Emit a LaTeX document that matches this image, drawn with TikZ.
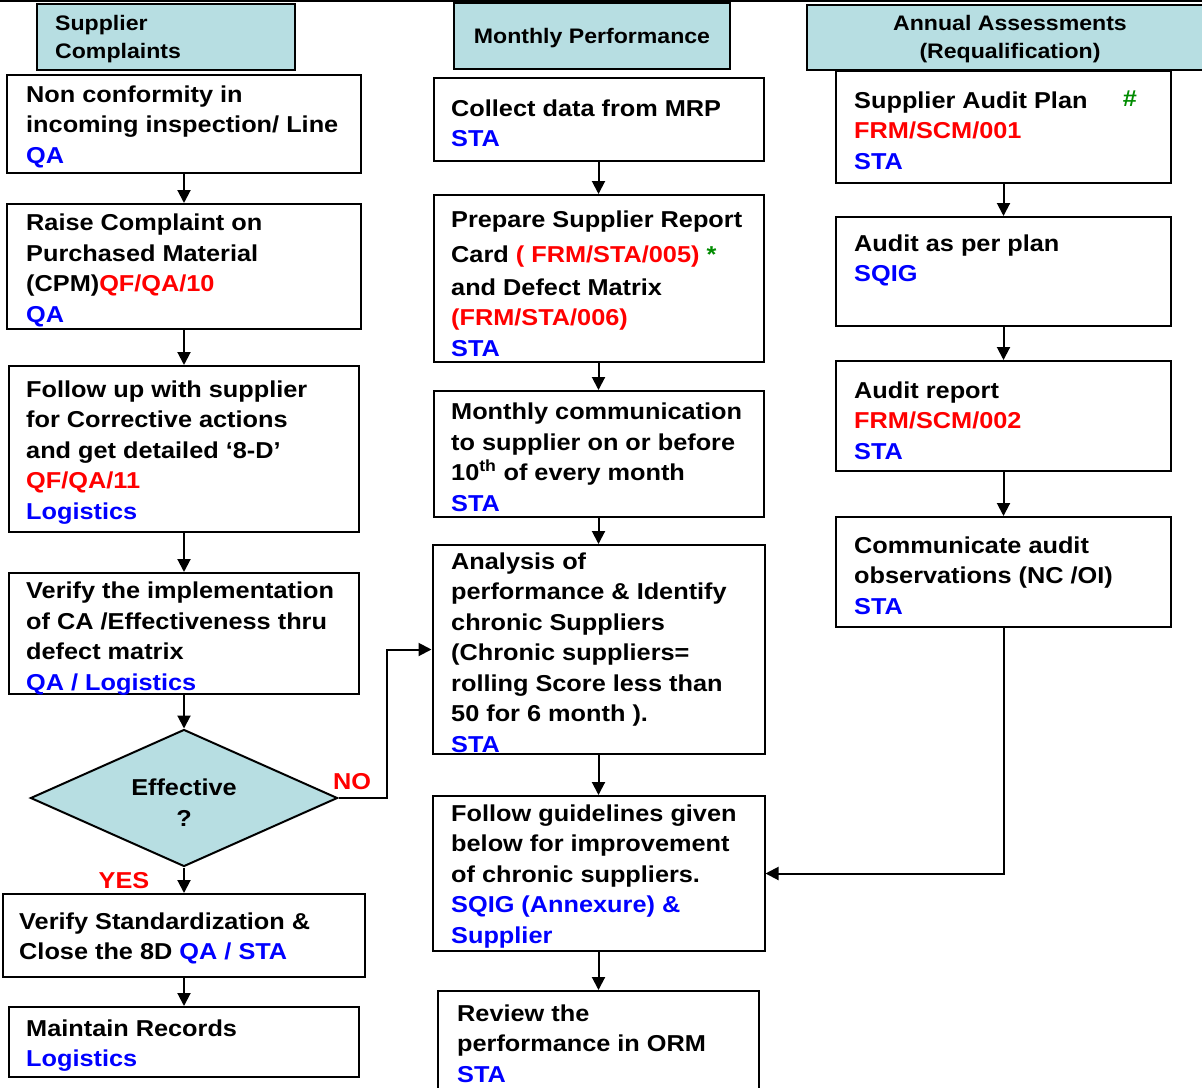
\documentclass[tikz,border=0pt]{standalone}
\usepackage{fontspec}
\setmainfont{Liberation Sans}[FakeStretch=1.1]
\usetikzlibrary{shapes.geometric,arrows.meta}

\definecolor{hdrfill}{RGB}{183,222,226}
\definecolor{tagblue}{RGB}{0,0,255}
\definecolor{tagred}{RGB}{255,0,0}
\definecolor{taggreen}{RGB}{0,140,0}

\newcommand{\ownr}[1]{\textcolor{tagblue}{#1}}
\newcommand{\form}[1]{\textcolor{tagred}{#1}}
\newcommand{\gmark}[1]{\textcolor{taggreen}{#1}}
\newcommand{\bodyfont}{\fontsize{23}{30.5}\selectfont\bfseries}
\newcommand{\headfont}{\fontsize{21}{28}\selectfont\bfseries}

\tikzset{
  frame/.style={draw, line width=2pt, rectangle, inner sep=0pt, fill=white},
  header/.style={draw, line width=2pt, rectangle, inner sep=0pt, fill=hdrfill,
                 font=\headfont, align=center},
  txt/.style={anchor=west, align=left, inner sep=0pt, font=\bodyfont, yshift=-2.5pt},
  headtxt/.style={inner sep=0pt, font=\headfont, yshift=-2.5pt},
  decision/.style={diamond, draw, line width=2pt, fill=hdrfill, inner sep=0pt},
  flow/.style={-{Triangle[length=13pt,width=13pt]}, line width=2pt},
  answer/.style={inner sep=0pt, font=\bodyfont, text=tagred}
}

\begin{document}
\begin{tikzpicture}[x=1pt,y=-1pt]
\useasboundingbox (0,0) rectangle (1202,1087);

% page rule along the top
\draw[line width=1.4pt] (0,1) -- (1202,1);

% ---------- column headers ----------
\node[header, minimum width=258pt, minimum height=66pt] (h1) at (166,37) {};
\node[headtxt, anchor=west, align=left] (h1t) at (55,37) {Supplier\\Complaints};
\node[header, minimum width=276pt, minimum height=66pt] (h2) at (592,36) {};
\node[headtxt] (h2t) at (592,36) {Monthly Performance};
\node[header, minimum width=403pt, minimum height=65pt] (h3) at (1008.5,37.5) {};
\node[headtxt, align=center] (h3t) at (1010,37) {Annual Assessments\\(Requalification)};

% ---------- supplier complaints ----------
\node[frame, minimum width=354pt, minimum height=98pt]  (b1) at (184,124) {};
\node[txt] (b1t) at (26,124) {Non conformity in\\incoming inspection/ Line\\\ownr{QA}};

\node[frame, minimum width=354pt, minimum height=125pt] (b2) at (184,266.5) {};
\node[txt] (b2t) at (26,268) {Raise Complaint on\\Purchased Material\\(CPM)\form{QF/QA/10}\\\ownr{QA}};

\node[frame, minimum width=350pt, minimum height=166pt] (b3) at (184,449) {};
\node[txt] (b3t) at (26,450) {Follow up with supplier\\for Corrective actions\\and get detailed ‘8-D’\\\form{QF/QA/11}\\\ownr{Logistics}};

\node[frame, minimum width=350pt, minimum height=121pt] (b4) at (184,633.5) {};
\node[txt] (b4t) at (26,636) {Verify the implementation\\of CA /Effectiveness thru\\defect matrix\\\ownr{QA / Logistics}};

\node[decision, minimum width=307pt, minimum height=137pt] (dec) at (184,798) {};
\node[inner sep=0pt, align=center, font=\bodyfont, yshift=-1.5pt] (dect) at (184,801) {Effective\\?};

\node[frame, minimum width=362pt, minimum height=83pt]  (b5) at (184,935.5) {};
\node[txt] (b5t) at (19,936) {Verify Standardization \&\\Close the 8D \ownr{QA / STA}};

\node[frame, minimum width=350pt, minimum height=70pt]  (b6) at (184,1042) {};
\node[txt] (b6t) at (26,1043) {Maintain Records\\\ownr{Logistics}};

\node[answer, yshift=-1.5pt] (no)  at (352,780) {NO};
\node[answer, yshift=-1.5pt] (yes) at (124,879) {YES};

% ---------- monthly performance ----------
\node[frame, minimum width=330pt, minimum height=83pt]  (c1) at (598.5,119.5) {};
\node[txt] (c1t) at (451,121) {Collect data from MRP\\\ownr{STA}};

\node[frame, minimum width=330pt, minimum height=167pt] (c2) at (598.5,278.5) {};
\node[txt] (c2t) at (451,281) {Prepare Supplier Report\\[5pt]Card \form{( FRM/STA/005)} \gmark{*}\\[2pt]and Defect Matrix\\\form{(FRM/STA/006)}\\\ownr{STA}};

\node[frame, minimum width=330pt, minimum height=126pt] (c3) at (598.5,454) {};
\node[txt] (c3t) at (451,455) {Monthly communication\\to supplier on or before\\10\textsuperscript{th} of every month\\\ownr{STA}};

\node[frame, minimum width=332pt, minimum height=209pt] (c4) at (598.5,649.5) {};
\node[txt] (c4t) at (451,650) {Analysis of\\performance \& Identify\\chronic Suppliers\\(Chronic suppliers=\\rolling Score less than\\50 for 6 month ).\\\ownr{STA}};

\node[frame, minimum width=332pt, minimum height=155pt] (c5) at (598.5,873.5) {};
\node[txt] (c5t) at (451,874) {Follow guidelines given\\below for improvement\\of chronic suppliers.\\\ownr{SQIG (Annexure) \&}\\\ownr{Supplier}};

\node[frame, minimum width=321pt, minimum height=101pt] (c6) at (598.5,1041.5) {};
\node[txt] (c6t) at (457,1041) {Review the\\performance in ORM\\\ownr{STA}};

% ---------- annual assessments ----------
\node[frame, minimum width=335pt, minimum height=112pt] (e1) at (1003.5,127) {};
\node[txt] (e1t) at (854,128) {Supplier Audit Plan\\\form{FRM/SCM/001}\\\ownr{STA}};
\node[inner sep=0pt, font=\bodyfont, text=taggreen, yshift=-1.5pt] (hash) at (1130,97) {\#};

\node[frame, minimum width=335pt, minimum height=109pt] (e2) at (1003.5,271.5) {};
\node[txt] (e2t) at (854,258) {Audit as per plan\\\ownr{SQIG}};

\node[frame, minimum width=335pt, minimum height=110pt] (e3) at (1003.5,416) {};
\node[txt] (e3t) at (854,418) {Audit report\\\form{FRM/SCM/002}\\\ownr{STA}};

\node[frame, minimum width=335pt, minimum height=110pt] (e4) at (1003.5,572) {};
\node[txt] (e4t) at (854,573) {Communicate audit\\observations (NC /OI)\\\ownr{STA}};

% ---------- connectors ----------
\draw[flow] (b1.south) -- (b2.north);
\draw[flow] (b2.south) -- (b3.north);
\draw[flow] (b3.south) -- (b4.north);
\draw[flow] (b4.south) -- (dec.north);
\draw[flow] (dec.south) -- (b5.north);
\draw[flow] (b5.south) -- (b6.north);
\draw[flow] (dec.east) -- ++(48,0) |- (c4.west);

\draw[flow] (c1.south) -- (c2.north);
\draw[flow] (c2.south) -- (c3.north);
\draw[flow] (c3.south) -- (c4.north);
\draw[flow] (c4.south) -- (c5.north);
\draw[flow] (c5.south) -- (c6.north);

\draw[flow] (e1.south) -- (e2.north);
\draw[flow] (e2.south) -- (e3.north);
\draw[flow] (e3.south) -- (e4.north);
\draw[flow] (e4.south) |- (c5.east);
\end{tikzpicture}
\end{document}
